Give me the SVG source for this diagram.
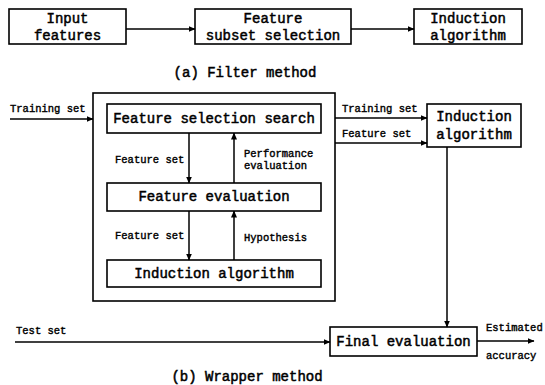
<svg xmlns="http://www.w3.org/2000/svg" width="545" height="385" viewBox="0 0 545 385">
<defs>
<marker id="ah" markerWidth="7" markerHeight="6" refX="6.5" refY="3" orient="auto" markerUnits="userSpaceOnUse">
<path d="M0,0 L7,3 L0,6 Z" fill="#000"/>
</marker>
</defs>
<style>
.box{fill:#fff;stroke:#000;stroke-width:1.6}
.t{font-family:'Liberation Mono','DejaVu Sans Mono',monospace;font-size:14px;fill:#000;stroke:#000;stroke-width:0.5;text-anchor:middle;dominant-baseline:central}
.s{font-family:'Liberation Mono','DejaVu Sans Mono',monospace;font-size:10.5px;fill:#000;stroke:#000;stroke-width:0.4;dominant-baseline:central}
.a{stroke:#000;stroke-width:1.5;fill:none;marker-end:url(#ah)}
</style>
<rect width="545" height="385" fill="#fff"/>

<g id="input-features"><rect class="box" x="9" y="9" width="117" height="35"/><text class="t" x="67.5" y="18.5">Input</text><text class="t" x="67.5" y="36">features</text></g>
<g id="feature-subset-selection"><rect class="box" x="195" y="9" width="156" height="35"/><text class="t" x="273" y="18.5">Feature</text><text class="t" x="273" y="36">subset selection</text></g>
<g id="induction-algorithm-a"><rect class="box" x="414" y="9" width="108" height="35"/><text class="t" x="468" y="18.5">Induction</text><text class="t" x="468" y="36">algorithm</text></g>
<text class="t" x="245" y="73">(a) Filter method</text>

<g id="wrapper-box"><rect class="box" x="93" y="93" width="242" height="208"/></g>
<g id="feature-selection-search"><rect class="box" x="107" y="104" width="214" height="29"/><text class="t" x="214" y="119">Feature selection search</text></g>
<g id="feature-evaluation"><rect class="box" x="107" y="183" width="214" height="28"/><text class="t" x="214" y="197">Feature evaluation</text></g>
<g id="induction-algorithm-inner"><rect class="box" x="107" y="260" width="214" height="27"/><text class="t" x="214" y="273.5">Induction algorithm</text></g>
<g id="induction-algorithm-b"><rect class="box" x="427" y="104" width="94" height="43"/><text class="t" x="474" y="117">Induction</text><text class="t" x="474" y="135">algorithm</text></g>
<g id="final-evaluation"><rect class="box" x="330" y="327" width="147" height="29"/><text class="t" x="403.5" y="341.5">Final evaluation</text></g>

<g id="connectors">
<line class="a" x1="126" y1="29" x2="195" y2="29"/>
<line class="a" x1="351" y1="29" x2="414" y2="29"/>
<line class="a" x1="10" y1="119" x2="93" y2="119"/>
<line class="a" x1="189" y1="133" x2="189" y2="183"/>
<line class="a" x1="234" y1="183" x2="234" y2="133"/>
<line class="a" x1="189" y1="211" x2="189" y2="260"/>
<line class="a" x1="234" y1="260" x2="234" y2="211"/>
<line class="a" x1="335" y1="118" x2="427" y2="118"/>
<line class="a" x1="335" y1="143" x2="427" y2="143"/>
<line class="a" x1="447" y1="147" x2="447" y2="327"/>
<line class="a" x1="15" y1="342" x2="330" y2="342"/>
<line class="a" x1="477" y1="341" x2="534" y2="341"/>
</g>

<g id="labels">
<text class="s" x="10" y="109">Training set</text>
<text class="s" x="115" y="160">Feature set</text>
<text class="s" x="244" y="154">Performance</text>
<text class="s" x="244" y="166">evaluation</text>
<text class="s" x="115" y="236">Feature set</text>
<text class="s" x="244" y="238">Hypothesis</text>
<text class="s" x="342" y="109">Training set</text>
<text class="s" x="342" y="134">Feature set</text>
<text class="s" x="16" y="331">Test set</text>
<text class="s" x="486" y="328">Estimated</text>
<text class="s" x="486" y="356">accuracy</text>
</g>
<text class="t" x="247" y="377">(b) Wrapper method</text>
</svg>
